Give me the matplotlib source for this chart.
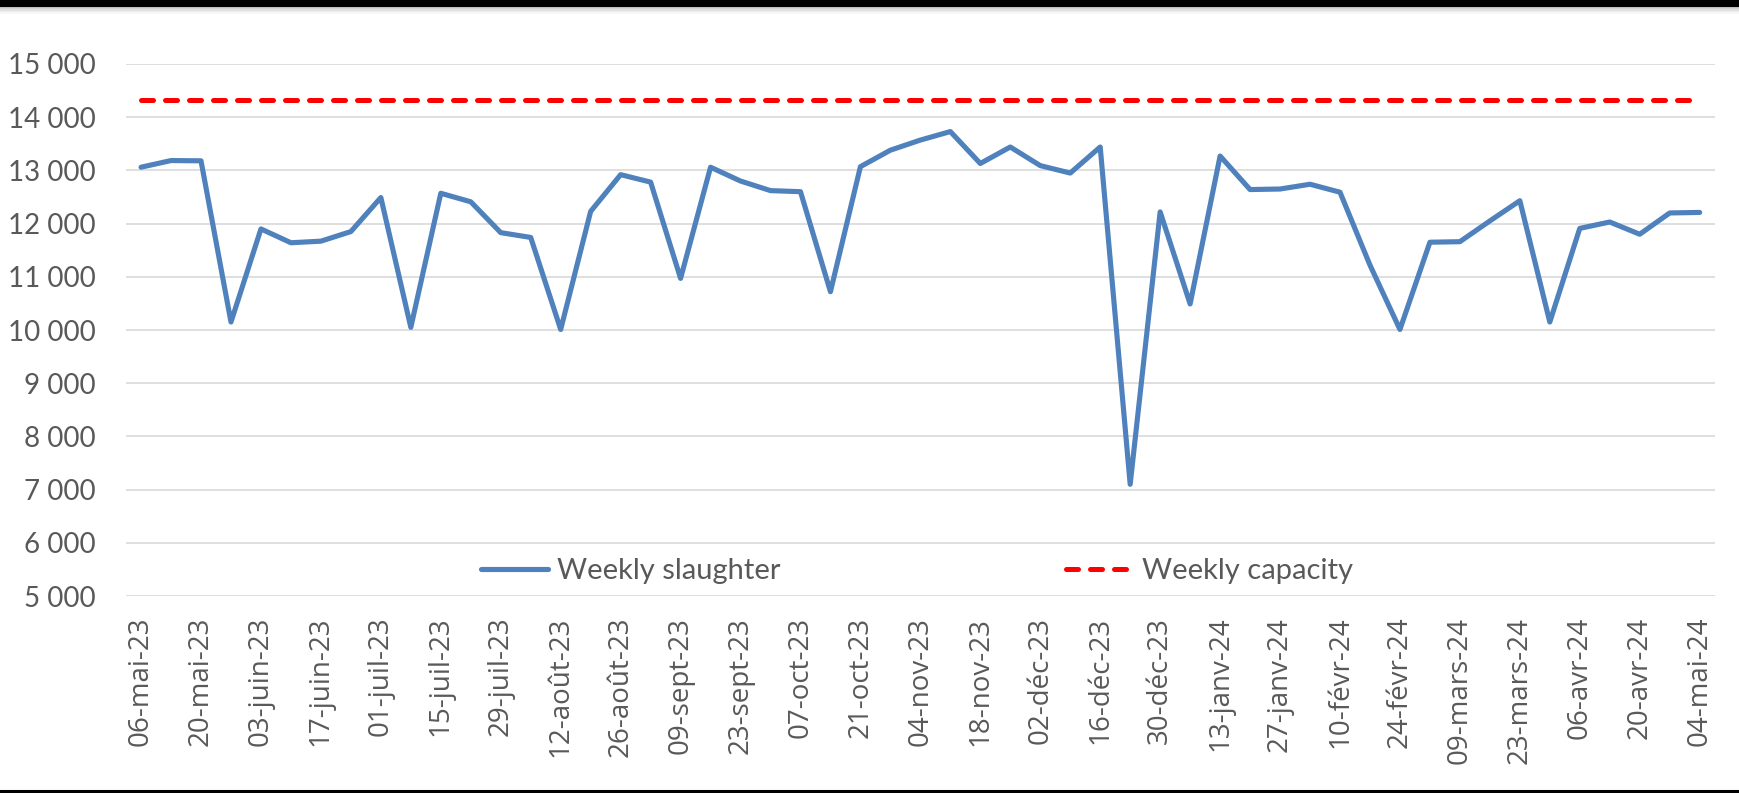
import pandas as pd
import matplotlib
matplotlib.use("Agg")
import matplotlib.pyplot as plt
from matplotlib.lines import Line2D
from matplotlib.patches import Rectangle

# semaines (samedi) de mai 2023 à mai 2024
mois_fr = ['janv', 'févr', 'mars', 'avr', 'mai', 'juin',
           'juil', 'août', 'sept', 'oct', 'nov', 'déc']
semaines = pd.date_range('2023-05-06', '2024-05-04', freq='7D')
etiquettes = [f"{d.day:02d}-{mois_fr[d.month - 1]}-{d.year % 100:02d}" for d in semaines]

abattage = [13060, 13185, 13180, 10150, 11900, 11640, 11670, 11850, 12490, 10050,
            12570, 12410, 11830, 11740, 10010, 12230, 12920, 12780, 10970, 13060,
            12800, 12620, 12600, 10720, 13070, 13380, 13570, 13730, 13130, 13440,
            13090, 12950, 13440, 7100, 12220, 10490, 13270, 12640, 12650, 12740,
            12590, 11220, 10010, 11650, 11660, 12050, 12430, 10150, 11910, 12030,
            11800, 12200, 12210]
capacite = [14330] * len(abattage)

gris = '#595959'

fig = plt.figure(figsize=(17.39, 7.93), dpi=100)
ax = fig.add_axes([0.0725, 0.2484, 0.9135, 0.6709])

x = list(range(len(abattage)))
ax.plot(x, abattage, color='#4F81BD', lw=3.7, solid_capstyle='round',
        solid_joinstyle='round', label='Weekly slaughter', zorder=3)
ax.plot(x, capacite, color='#FF0000', lw=3.6, dashes=(2.4, 2.4),
        dash_capstyle='round', label='Weekly capacity', zorder=3)

ax.set_xlim(-0.5, len(abattage) - 0.5)
ax.set_ylim(5000, 15000)
ax.set_yticks(range(5000, 15001, 1000))
ax.set_yticklabels([f"{v:,}".replace(',', ' ') for v in range(5000, 15001, 1000)],
                   family='Lato', fontsize=20, color=gris)
ax.set_xticks(x[::2])
ax.set_xticklabels(etiquettes[::2], rotation=90, family='Open Sans',
                   fontsize=20, color=gris)
ax.tick_params(axis='both', length=0)
ax.tick_params(axis='y', pad=22)
ax.tick_params(axis='x', pad=15)
ax.grid(axis='y', color='#D9D9D9', lw=1.2)
ax.set_axisbelow(True)
for s in ax.spines.values():
    s.set_visible(False)

leg = ax.legend(loc='center', bbox_to_anchor=(0.498, 0.047), ncol=2, frameon=False,
                prop={'family': 'Lato', 'size': 21}, handlelength=2.3,
                handletextpad=0.3, columnspacing=9.8)
for t in leg.get_texts():
    t.set_color(gris)

# bandeau noir en haut avec ombre, filet en bas
for i, a in enumerate([0.25, 0.18, 0.12, 0.07, 0.03]):
    fig.add_artist(Rectangle((0, 1 - (8 + i * 1.4) / 793), 1, 1.4 / 793,
                             transform=fig.transFigure, color='black', alpha=a, lw=0))
fig.add_artist(Rectangle((0, 1 - 7 / 793), 1, 7 / 793, transform=fig.transFigure,
                         color='black', lw=0))
fig.add_artist(Line2D([0, 1], [2 / 793, 2 / 793], transform=fig.transFigure,
                      color='black', lw=2.2))

fig.savefig('out.png', dpi=100)
